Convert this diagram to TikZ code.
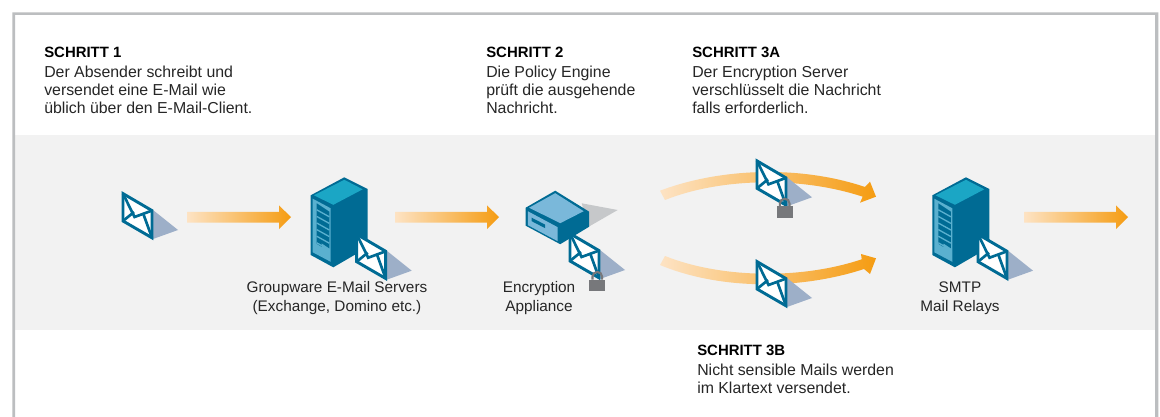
\documentclass[tikz,border=0pt]{standalone}
\usepackage{fontspec}
\setmainfont{Liberation Sans}
\definecolor{teal1}{HTML}{006B94}
\definecolor{teal2}{HTML}{1BA6C5}
\definecolor{teal3}{HTML}{5AB0CF}
\definecolor{blue1}{HTML}{7AB8DA}
\definecolor{shadowb}{HTML}{9DAFC8}
\definecolor{shadowg}{HTML}{C6C8CA}
\definecolor{lockc}{HTML}{77787B}
\definecolor{band}{HTML}{F2F2F2}
\definecolor{frame}{HTML}{BCBEC0}
\definecolor{arrowa}{HTML}{FDE3C4}
\definecolor{arrowb}{HTML}{F59C12}
\tikzset{
  txt/.style={inner sep=0pt,anchor=north west,align=left,font=\fontsize{11.9pt}{13.6pt}\selectfont,text=black!85},
  head/.style={inner sep=0pt,anchor=base west,font=\fontsize{11.2pt}{13pt}\selectfont\bfseries,text=black},
  lab/.style={inner sep=0pt,anchor=base,align=center,font=\fontsize{11.5pt}{13.7pt}\selectfont,text=black!85},
  flow/.style={left color=arrowa,right color=arrowb,draw=none},
  envelope/.pic={
    \fill[shadowb] (31,18) -- (56,38) -- (31,47) -- cycle;
    \filldraw[fill=white,draw=teal1,line width=2.2pt,line join=miter] (1,1.6) -- (30,18.6) -- (30,45.8) -- (1,29) -- cycle;
    \draw[teal1,line width=2pt] (1,1.6) -- (12.5,25) -- (30,18.6);
    \draw[teal1,line width=2pt] (1,29) -- (12,20);
    \draw[teal1,line width=2pt] (21,21) -- (30,45.8);
  },
  lockpic/.pic={
    \draw[lockc,line width=1.6pt] (3.2,0) -- (3.2,-3) arc[start angle=180,end angle=360,radius=4.8] -- (12.8,0);
    \fill[lockc] (0,0) rectangle (16,11);
  },
  server/.pic={
    \fill[teal1] (0,0) -- (33.6,-18) -- (57,-6.3) -- (57,52) -- (22.6,72) -- (0,59.7) -- cycle;
    \fill[teal2] (3.2,0) -- (33.6,-15.5) -- (52,-6) -- (22.6,9.5) -- cycle;
    \fill[teal3] (2,3.4) -- (20,13) -- (20,66.5) -- (2,57) -- cycle;
    \fill[teal1] (6,8) -- (18.6,16.4) -- (18.6,53) -- (11,48) -- (11,51.5) -- (6,48.5) -- cycle;
    \foreach \k in {0,1,2,3,4,5}{
      \draw[teal3,line width=1pt] (6,14.5+6.6*\k) -- (18.6,21.5+6.6*\k);
    }
  },
  appliance/.pic={
    \fill[shadowg] (56,-4.4) -- (92,2.3) -- (63,19) -- cycle;
    \fill[teal1] (0,0) -- (29.5,-17) -- (63.5,4) -- (63.5,19) -- (34.5,36.5) -- (0,18) -- cycle;
    \fill[blue1] (3.4,0) -- (29.5,-14.5) -- (58,3.5) -- (34.5,15.5) -- cycle;
    \fill[blue1] (2.2,3.6) -- (32,19.5) -- (32,33.5) -- (2.2,17.5) -- cycle;
    \fill[teal1] (6,10) -- (19.5,17) -- (19.5,20.5) -- (6,13.5) -- cycle;
  },
  flowarrow/.pic={
    \shade[flow] (0,-5) -- (92,-5) -- (92,-11.5) -- (104,0) -- (92,12) -- (92,5.5) -- (0,5.5) -- cycle;
  }
}
\begin{document}
\begin{tikzpicture}[x=0.75pt,y=-0.75pt]
\useasboundingbox (0,0) rectangle (1160,417);
\fill[white] (0,0) rectangle (1160,417);
\fill[band] (15,135.5) rectangle (1155,329.5);
\fill[frame] (12.3,417) -- (12.3,12.3) -- (1158.3,12.3) -- (1158.3,417) -- (1155,417) -- (1155,15) -- (15,15) -- (15,417) -- cycle;

\node[head] (h1) at (44,57.5) {SCHRITT 1};
\node[txt] (t1) at (44,65.5) {Der Absender schreibt und\\versendet eine E-Mail wie\\üblich über den E-Mail-Client.};
\node[head] (h2) at (486,57.5) {SCHRITT 2};
\node[txt] (t2) at (486,65.5) {Die Policy Engine\\prüft die ausgehende\\Nachricht.};
\node[head] (h3) at (692,57.5) {SCHRITT 3A};
\node[txt] (t3) at (692,65.5) {Der Encryption Server\\verschlüsselt die Nachricht\\falls erforderlich.};
\node[head] (h4) at (697,355.5) {SCHRITT 3B};
\node[txt] (t4) at (697,363.5) {Nicht sensible Mails werden\\im Klartext versendet.};

% flow arrows
\pic at (187,217) {flowarrow};
\pic at (395,217) {flowarrow};
\pic at (1024,217) {flowarrow};
\shade[flow] (660,190.7) .. controls (720,168) and (800,165) .. (865,187) -- (870,181.7) -- (876,196.7) -- (860,202.7) -- (862.7,196.7) .. controls (800,176) and (720,178) .. (665,200) -- cycle;
\shade[flow] (665,256) .. controls (720,278) and (800,280) .. (861.7,259.3) -- (861,254) -- (876,258.3) -- (870,274) -- (864,269) .. controls (800,290) and (720,290) .. (660,265) -- cycle;

% first envelope
\pic at (122,192) {envelope};
% groupware server
\pic at (310.7,195.3) {server};
\pic at (355.7,232.7) {envelope};
\node[lab] (l1) at (337,311) {Groupware E-Mail Servers\\(Exchange, Domino etc.)};
% appliance
\pic at (569,232) {envelope};
\pic at (525.7,207.7) {appliance};
\pic at (589.3,279.7) {lockpic};
\node[lab] (l2) at (539,311) {Encryption\\Appliance};
% encrypted route
\pic at (756,159.3) {envelope};
\pic at (776.7,206.5) {lockpic};
% clear route
\pic at (756,260) {envelope};
% relay
\pic at (932.3,195.3) {server};
\pic at (977,232.7) {envelope};
\node[lab] (l3) at (960,311) {SMTP\\Mail Relays};
\end{tikzpicture}
\end{document}
